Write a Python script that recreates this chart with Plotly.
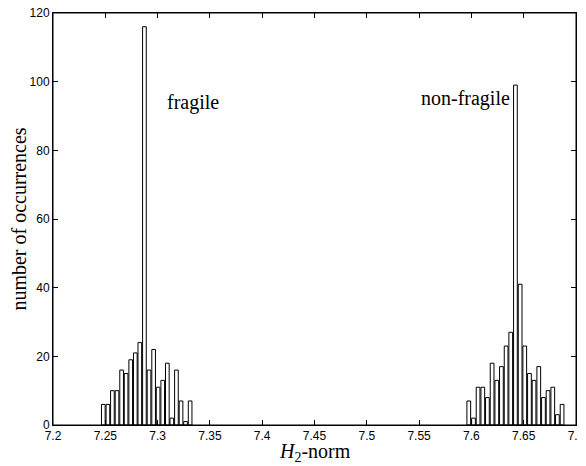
import plotly.graph_objects as go

# Left cluster ("fragile") histogram bins
fragile_centers = [7.2481, 7.2525, 7.2568, 7.2612, 7.2656, 7.2699, 7.2743, 7.2787, 7.2830, 7.2874,
                   7.2918, 7.2962, 7.3005, 7.3049, 7.3093, 7.3136, 7.3180, 7.3224, 7.3267, 7.3311]
fragile_counts = [6, 6, 10, 10, 16, 15, 19, 21, 24, 116, 16, 22, 11, 13, 18, 2, 16, 7, 1, 7]

# Right cluster ("non-fragile") histogram bins
nonfragile_centers = [7.5975, 7.6020, 7.6064, 7.6109, 7.6153, 7.6198, 7.6243, 7.6287, 7.6332, 7.6376,
                      7.6421, 7.6466, 7.6510, 7.6555, 7.6599, 7.6644, 7.6689, 7.6733, 7.6778, 7.6822, 7.6867]
nonfragile_counts = [7, 2, 11, 11, 8, 18, 13, 17, 23, 27, 99, 41, 23, 15, 13, 17, 8, 10, 11, 3, 6]

x_ticks = [7.2, 7.25, 7.3, 7.35, 7.4, 7.45, 7.5, 7.55, 7.6, 7.65, 7.7]
x_tick_labels = ["7.2", "7.25", "7.3", "7.35", "7.4", "7.45", "7.5", "7.55", "7.6", "7.65", "7.7"]
y_ticks = [0, 20, 40, 60, 80, 100, 120]

fragile_binw = 0.00437
nonfragile_binw = 0.00446

fig = go.Figure()
fig.add_trace(go.Bar(x=fragile_centers, y=fragile_counts, width=[fragile_binw * 0.8] * len(fragile_centers),
                     marker=dict(color="white", line=dict(color="black", width=1)), showlegend=False))
fig.add_trace(go.Bar(x=nonfragile_centers, y=nonfragile_counts, width=[nonfragile_binw * 0.8] * len(nonfragile_centers),
                     marker=dict(color="white", line=dict(color="black", width=1)), showlegend=False))

serif = "Liberation Serif, Times New Roman, serif"
sans = "Liberation Sans, Arial, sans-serif"

fig.add_annotation(x=7.334, y=94.0, text="fragile", showarrow=False,
                   font=dict(family=serif, size=20, color="black"))
fig.add_annotation(x=7.594, y=95.0, text="non-fragile", showarrow=False,
                   font=dict(family=serif, size=20, color="black"))

# x-axis title as annotation for precise placement
fig.add_annotation(x=0.5, xref="paper", y=-0.066, yref="paper", yanchor="middle",
                   text="<i>H</i><sub>2</sub>-norm", showarrow=False,
                   font=dict(family=serif, size=20, color="black"))

# frame (top and right) to make sure the box is closed
fig.add_shape(type="rect", xref="paper", yref="paper", x0=0, x1=1, y0=0, y1=1,
              line=dict(color="black", width=1), fillcolor="rgba(0,0,0,0)", layer="above")

axis_common = dict(showline=True, linecolor="black", linewidth=1, mirror="ticks",
                   ticks="inside", ticklen=5, tickcolor="black", showgrid=False, zeroline=False,
                   ticklabeloverflow="allow",
                   tickfont=dict(family=sans, size=12, color="black"))

fig.update_xaxes(range=[7.2, 7.7], tickvals=x_ticks, ticktext=x_tick_labels, automargin=False,
                 **axis_common)
fig.update_yaxes(range=[0, 120], tickvals=y_ticks, automargin=False,
                 title=dict(text="number of occurrences", font=dict(family=serif, size=20, color="black"),
                            standoff=2),
                 **axis_common)

fig.update_layout(width=578, height=458, paper_bgcolor="white", plot_bgcolor="white",
                  margin=dict(l=45, r=10, t=5, b=41), barmode="overlay")

fig.write_html("out.html")
